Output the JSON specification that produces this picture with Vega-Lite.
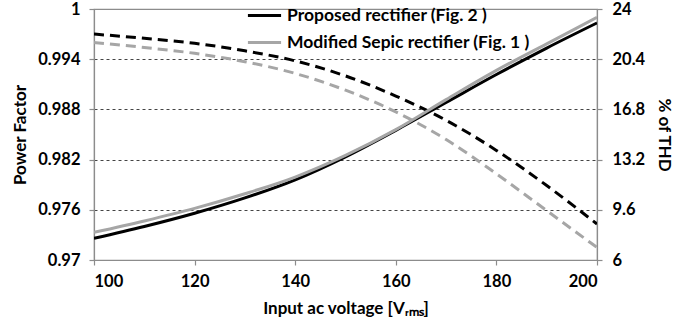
{
  "$schema": "https://vega.github.io/schema/vega-lite/v6.json",
  "autosize": {"type": "none"},
  "width": 503,
  "height": 251,
  "padding": {"left": 94, "top": 9, "right": 101, "bottom": 70},
  "background": "white",
  "config": {
    "font": "Lato",
    "view": {"stroke": "#8c8c8c", "strokeWidth": 1.2},
    "axis": {
      "labelFont": "Lato", "labelFontWeight": "bold", "labelFontSize": 16.5, "labelColor": "#000",
      "titleFont": "Lato", "titleFontWeight": "bold", "titleFontSize": 17, "titleColor": "#000",
      "domainColor": "#8c8c8c", "domainWidth": 1.2, "tickColor": "#8c8c8c", "tickSize": 5, "tickWidth": 1.2
    }
  },
  "data": {"values": [
    {"V": 100, "series": "Proposed rectifier (Fig. 2 )", "PF": 0.9970, "THD": 7.55},
    {"V": 110, "series": "Proposed rectifier (Fig. 2 )", "PF": 0.9965, "THD": 8.4},
    {"V": 120, "series": "Proposed rectifier (Fig. 2 )", "PF": 0.9959, "THD": 9.35},
    {"V": 130, "series": "Proposed rectifier (Fig. 2 )", "PF": 0.9950, "THD": 10.45},
    {"V": 140, "series": "Proposed rectifier (Fig. 2 )", "PF": 0.9938, "THD": 11.75},
    {"V": 150, "series": "Proposed rectifier (Fig. 2 )", "PF": 0.9920, "THD": 13.4},
    {"V": 160, "series": "Proposed rectifier (Fig. 2 )", "PF": 0.9896, "THD": 15.3},
    {"V": 170, "series": "Proposed rectifier (Fig. 2 )", "PF": 0.9867, "THD": 17.3},
    {"V": 180, "series": "Proposed rectifier (Fig. 2 )", "PF": 0.9831, "THD": 19.3},
    {"V": 190, "series": "Proposed rectifier (Fig. 2 )", "PF": 0.9789, "THD": 21.2},
    {"V": 200, "series": "Proposed rectifier (Fig. 2 )", "PF": 0.9743, "THD": 23.0},
    {"V": 100, "series": "Modified Sepic rectifier (Fig. 1 )", "PF": 0.9960, "THD": 7.98},
    {"V": 110, "series": "Modified Sepic rectifier (Fig. 1 )", "PF": 0.9954, "THD": 8.8},
    {"V": 120, "series": "Modified Sepic rectifier (Fig. 1 )", "PF": 0.9947, "THD": 9.7},
    {"V": 130, "series": "Modified Sepic rectifier (Fig. 1 )", "PF": 0.9937, "THD": 10.75},
    {"V": 140, "series": "Modified Sepic rectifier (Fig. 1 )", "PF": 0.9923, "THD": 11.95},
    {"V": 150, "series": "Modified Sepic rectifier (Fig. 1 )", "PF": 0.9903, "THD": 13.5},
    {"V": 160, "series": "Modified Sepic rectifier (Fig. 1 )", "PF": 0.9877, "THD": 15.35},
    {"V": 170, "series": "Modified Sepic rectifier (Fig. 1 )", "PF": 0.9844, "THD": 17.5},
    {"V": 180, "series": "Modified Sepic rectifier (Fig. 1 )", "PF": 0.9803, "THD": 19.6},
    {"V": 190, "series": "Modified Sepic rectifier (Fig. 1 )", "PF": 0.9759, "THD": 21.5},
    {"V": 200, "series": "Modified Sepic rectifier (Fig. 1 )", "PF": 0.9715, "THD": 23.4}
  ]},
  "encoding": {
    "x": {"field": "V", "type": "quantitative",
      "scale": {"domain": [100, 200], "nice": false},
      "axis": {"values": [100, 120, 140, 160, 180, 200], "grid": false, "title": "Input ac voltage [Vᵣₘₛ]", "titlePadding": 11, "labelPadding": 8}}
  },
  "layer": [
    {
      "mark": {"type": "line", "strokeWidth": 3, "strokeDash": [10, 6], "interpolate": "monotone", "clip": true},
      "encoding": {
        "y": {"field": "PF", "type": "quantitative",
          "scale": {"domain": [0.97, 1], "nice": false, "zero": false},
          "axis": {"orient": "left", "title": "Power Factor", "values": [0.97, 0.976, 0.982, 0.988, 0.994, 1], "labelExpr": "toString(datum.value)",
            "grid": true, "gridDash": [3, 3], "gridColor": "#444", "gridWidth": 1,
            "gridOpacity": {"condition": {"test": "datum.value == 1 || datum.value == 0.97", "value": 0}, "value": 1},
            "titlePadding": 8, "labelPadding": 9}},
        "color": {"field": "series", "type": "nominal",
          "scale": {"domain": ["Proposed rectifier (Fig. 2 )", "Modified Sepic rectifier (Fig. 1 )"], "range": ["#000000", "#a6a6a6"]},
          "legend": null}
      }
    },
    {
      "mark": {"type": "line", "strokeWidth": 3, "interpolate": "monotone", "clip": true},
      "encoding": {
        "y": {"field": "THD", "type": "quantitative",
          "scale": {"domain": [6, 24], "nice": false, "zero": false},
          "axis": {"orient": "right", "title": "% of THD", "values": [6, 9.6, 13.2, 16.8, 20.4, 24], "labelExpr": "toString(datum.value)",
            "grid": false, "titlePadding": 10, "labelPadding": 10}},
        "color": {"field": "series", "type": "nominal",
          "scale": {"domain": ["Proposed rectifier (Fig. 2 )", "Modified Sepic rectifier (Fig. 1 )"], "range": ["#000000", "#a6a6a6"]},
          "legend": {"orient": "none", "legendX": 152, "legendY": -12, "title": null,
            "symbolType": "stroke", "symbolStrokeWidth": 3, "symbolSize": 1100,
            "labelFont": "Lato", "labelFontWeight": "bold", "labelFontSize": 17.5, "labelColor": "#000",
            "rowPadding": -9, "labelOffset": 4, "labelLimit": 400}}
      }
    }
  ],
  "resolve": {"scale": {"y": "independent"}, "legend": {"color": "independent"}}
}
